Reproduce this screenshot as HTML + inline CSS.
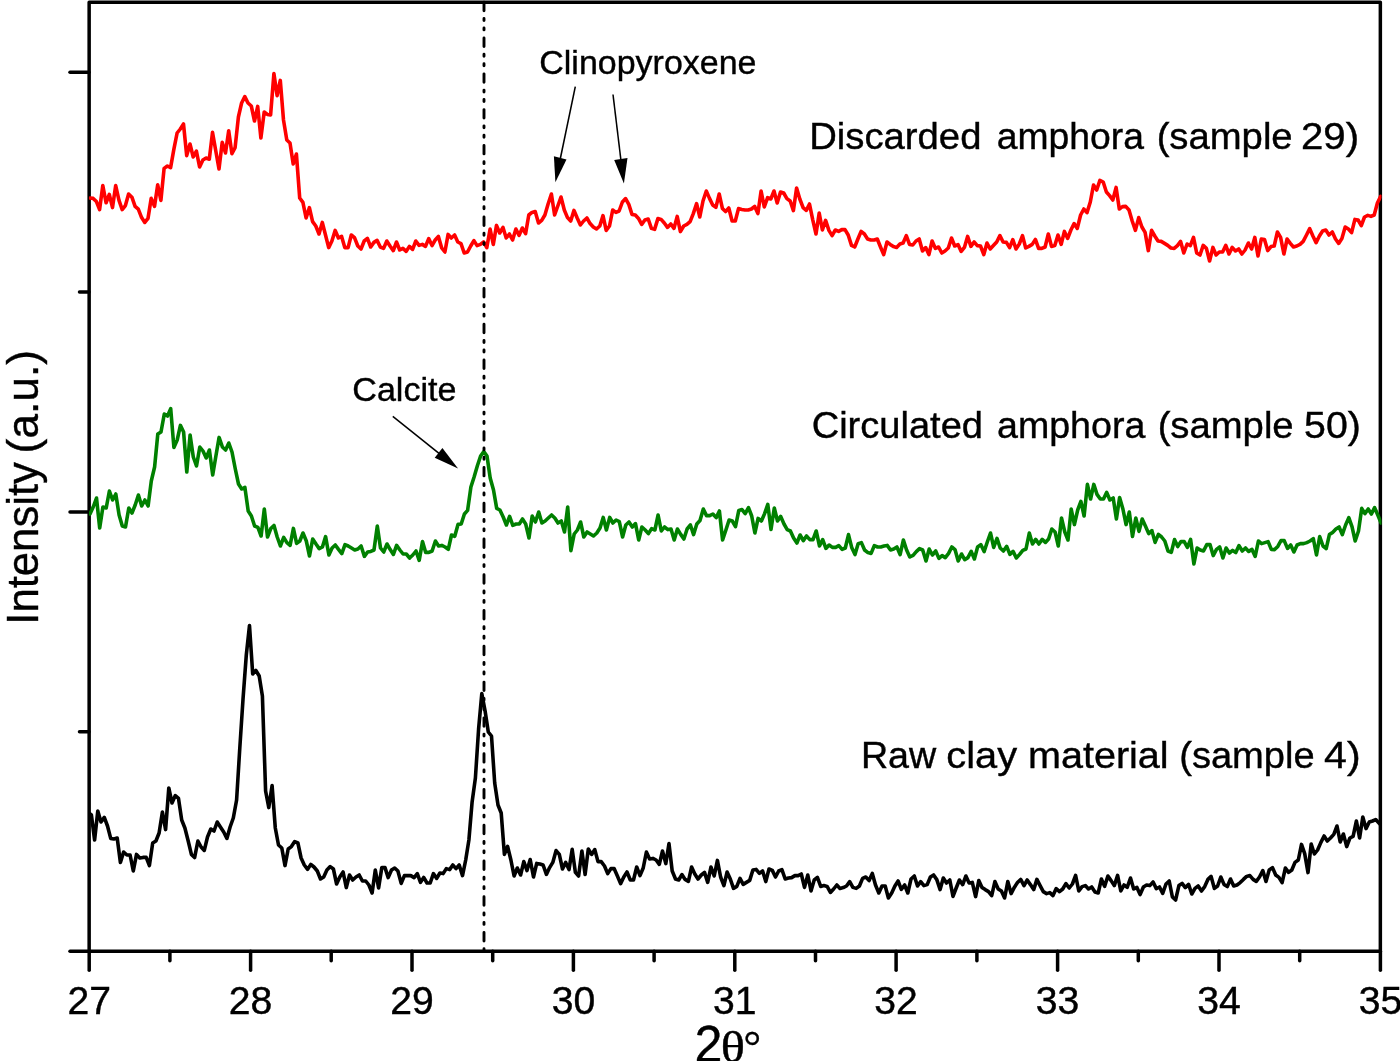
<!DOCTYPE html>
<html><head><meta charset="utf-8"><title>XRD patterns</title>
<style>
html,body{margin:0;padding:0;background:#fff;}
svg{display:block;font-family:"Liberation Sans",Arial,sans-serif;font-kerning:none;}
text{stroke:#000;stroke-width:0.4px;}
.ax line{stroke:#000;stroke-width:3.5;stroke-linecap:round;}
.cv{fill:none;stroke-width:3.6;stroke-linejoin:round;stroke-linecap:round;}
</style></head><body>
<svg width="1400" height="1061" viewBox="0 0 1400 1061">
<rect width="1400" height="1061" fill="#fff"/>
<g class="ax">
<rect x="89.15" y="2.2" width="1291.2" height="949.1" fill="none" stroke="#000" stroke-width="3.5" stroke-linejoin="round"/>
<line x1="89.2" y1="951.3" x2="89.2" y2="970.3"/><line x1="169.9" y1="951.3" x2="169.9" y2="960.8"/><line x1="250.6" y1="951.3" x2="250.6" y2="970.3"/><line x1="331.2" y1="951.3" x2="331.2" y2="960.8"/><line x1="412.0" y1="951.3" x2="412.0" y2="970.3"/><line x1="492.7" y1="951.3" x2="492.7" y2="960.8"/><line x1="573.4" y1="951.3" x2="573.4" y2="970.3"/><line x1="654.1" y1="951.3" x2="654.1" y2="960.8"/><line x1="734.8" y1="951.3" x2="734.8" y2="970.3"/><line x1="815.5" y1="951.3" x2="815.5" y2="960.8"/><line x1="896.1" y1="951.3" x2="896.1" y2="970.3"/><line x1="976.9" y1="951.3" x2="976.9" y2="960.8"/><line x1="1057.6" y1="951.3" x2="1057.6" y2="970.3"/><line x1="1138.3" y1="951.3" x2="1138.3" y2="960.8"/><line x1="1219.0" y1="951.3" x2="1219.0" y2="970.3"/><line x1="1299.7" y1="951.3" x2="1299.7" y2="960.8"/><line x1="1380.4" y1="951.3" x2="1380.4" y2="970.3"/><line x1="70" y1="72.3" x2="89" y2="72.3"/><line x1="70" y1="512" x2="89" y2="512"/><line x1="70" y1="951.3" x2="89" y2="951.3"/><line x1="79.5" y1="292.1" x2="89" y2="292.1"/><line x1="79.5" y1="731.7" x2="89" y2="731.7"/>
</g>
<clipPath id="pc"><rect x="88.9" y="2" width="1292.6" height="949.5"/></clipPath>
<g clip-path="url(#pc)">
<path class="cv" stroke="#ff0000" d="M89.9,198.0 L93.2,198.4 L96.4,201.6 L99.6,209.6 L102.8,185.6 L106.1,202.8 L109.3,194.4 L112.5,207.6 L115.7,185.6 L119.0,200.4 L122.2,209.6 L125.4,205.6 L128.6,194.0 L131.9,197.2 L135.1,206.4 L138.3,209.2 L141.6,217.6 L144.8,222.4 L148.0,218.4 L151.2,198.4 L154.5,206.4 L157.7,184.8 L160.9,200.4 L164.1,168.4 L167.4,166.0 L170.6,167.6 L173.8,149.6 L177.1,133.0 L180.3,129.0 L183.5,124.0 L186.7,155.6 L190.0,144.0 L193.2,157.0 L196.4,151.2 L199.6,167.0 L202.9,160.0 L206.1,158.0 L209.3,159.2 L212.5,132.4 L215.8,151.0 L219.0,169.0 L222.2,142.4 L225.5,153.0 L228.7,130.8 L231.9,153.6 L235.1,147.6 L238.4,117.0 L241.6,103.0 L244.8,96.6 L248.0,103.0 L251.3,106.0 L254.5,121.0 L257.7,106.4 L260.9,138.0 L264.2,112.0 L267.4,114.4 L270.6,115.0 L273.9,73.6 L277.1,95.6 L280.3,80.4 L283.5,120.0 L286.8,140.0 L290.0,143.0 L293.2,164.0 L296.4,154.0 L299.7,198.0 L302.9,202.4 L306.1,218.0 L309.4,207.6 L312.6,221.6 L315.8,226.0 L319.0,234.0 L322.3,222.4 L325.5,235.0 L328.7,247.6 L331.9,241.0 L335.2,230.4 L338.4,238.0 L341.6,236.4 L344.8,247.6 L348.1,247.6 L351.3,235.0 L354.5,237.6 L357.8,246.0 L361.0,249.0 L364.2,241.0 L367.4,238.4 L370.7,247.0 L373.9,242.4 L377.1,240.4 L380.3,247.0 L383.6,248.4 L386.8,241.0 L390.0,246.0 L393.3,250.6 L396.5,242.0 L399.7,250.0 L402.9,248.4 L406.2,251.4 L409.4,246.4 L412.6,249.4 L415.8,241.0 L419.1,245.4 L422.3,244.4 L425.5,246.4 L428.7,238.6 L432.0,245.6 L435.2,240.0 L438.4,236.4 L441.7,248.0 L444.9,252.0 L448.1,234.4 L451.3,238.0 L454.6,235.0 L457.8,242.0 L461.0,243.6 L464.2,253.0 L467.5,252.0 L470.7,246.0 L473.9,240.6 L477.1,245.6 L480.4,244.4 L483.6,242.0 L486.8,247.6 L490.1,229.0 L493.3,244.4 L496.5,225.4 L499.7,233.0 L503.0,227.4 L506.2,238.0 L509.4,234.0 L512.6,240.0 L515.9,229.0 L519.1,235.4 L522.3,228.0 L525.6,233.6 L528.8,215.0 L532.0,212.4 L535.2,211.6 L538.5,223.0 L541.7,220.4 L544.9,215.0 L548.1,204.0 L551.4,194.0 L554.6,215.0 L557.8,206.0 L561.0,197.0 L564.3,210.0 L567.5,217.6 L570.7,221.0 L574.0,210.4 L577.2,218.0 L580.4,225.0 L583.6,221.0 L586.9,218.0 L590.1,223.6 L593.3,227.0 L596.5,229.0 L599.8,226.0 L603.0,215.6 L606.2,230.4 L609.5,226.0 L612.7,210.0 L615.9,212.4 L619.1,211.0 L622.4,202.0 L625.6,198.6 L628.8,204.4 L632.0,214.4 L635.3,215.0 L638.5,218.4 L641.7,224.4 L644.9,220.0 L648.2,219.0 L651.4,228.4 L654.6,229.4 L657.9,218.6 L661.1,219.4 L664.3,223.0 L667.5,227.4 L670.8,224.0 L674.0,228.4 L677.2,216.4 L680.4,231.6 L683.7,226.0 L686.9,224.4 L690.1,221.6 L693.3,213.6 L696.6,203.6 L699.8,217.0 L703.0,201.0 L706.3,191.0 L709.5,198.4 L712.7,205.0 L715.9,207.4 L719.2,194.0 L722.4,208.4 L725.6,211.6 L728.8,208.0 L732.1,221.0 L735.3,221.0 L738.5,208.6 L741.8,209.4 L745.0,210.0 L748.2,210.0 L751.4,209.0 L754.7,206.4 L757.9,213.6 L761.1,191.0 L764.3,207.0 L767.6,197.6 L770.8,199.0 L774.0,191.0 L777.2,203.0 L780.5,192.0 L783.7,193.0 L786.9,198.6 L790.2,201.0 L793.4,210.6 L796.6,188.0 L799.8,199.0 L803.1,207.6 L806.3,210.4 L809.5,204.0 L812.7,219.6 L816.0,234.0 L819.2,213.0 L822.4,230.0 L825.6,220.4 L828.9,230.4 L832.1,235.6 L835.3,230.0 L838.6,231.4 L841.8,229.6 L845.0,229.6 L848.2,235.0 L851.5,245.4 L854.7,247.0 L857.9,239.0 L861.1,231.4 L864.4,234.0 L867.6,239.0 L870.8,240.0 L874.1,240.0 L877.3,239.0 L880.5,247.0 L883.7,254.6 L887.0,242.0 L890.2,244.4 L893.4,246.6 L896.6,247.4 L899.9,244.0 L903.1,243.0 L906.3,235.6 L909.5,244.4 L912.8,245.0 L916.0,241.0 L919.2,239.0 L922.5,251.0 L925.7,247.6 L928.9,254.6 L932.1,241.0 L935.4,248.4 L938.6,247.0 L941.8,253.0 L945.0,251.0 L948.3,248.0 L951.5,238.0 L954.7,246.0 L958.0,244.6 L961.2,251.4 L964.4,247.4 L967.6,236.4 L970.9,246.4 L974.1,242.0 L977.3,245.6 L980.5,246.0 L983.8,254.6 L987.0,243.0 L990.2,249.0 L993.4,245.6 L996.7,242.0 L999.9,235.6 L1003.1,242.0 L1006.4,242.4 L1009.6,247.6 L1012.8,239.6 L1016.0,249.0 L1019.3,244.0 L1022.5,235.6 L1025.7,248.0 L1028.9,246.4 L1032.2,244.4 L1035.4,239.4 L1038.6,248.4 L1041.8,248.4 L1045.1,247.0 L1048.3,234.0 L1051.5,246.4 L1054.8,245.6 L1058.0,235.0 L1061.2,244.4 L1064.4,231.4 L1067.7,238.4 L1070.9,230.0 L1074.1,223.6 L1077.3,228.4 L1080.6,215.0 L1083.8,209.0 L1087.0,212.6 L1090.3,202.0 L1093.5,185.0 L1096.7,190.0 L1099.9,180.4 L1103.2,182.0 L1106.4,192.0 L1109.6,195.6 L1112.8,200.0 L1116.1,187.4 L1119.3,209.0 L1122.5,206.6 L1125.7,206.4 L1129.0,210.0 L1132.2,221.0 L1135.4,230.4 L1138.7,217.6 L1141.9,227.0 L1145.1,232.4 L1148.3,250.6 L1151.6,230.4 L1154.8,236.0 L1158.0,241.0 L1161.2,241.4 L1164.5,243.4 L1167.7,245.4 L1170.9,248.0 L1174.2,248.4 L1177.4,245.6 L1180.6,241.4 L1183.8,253.0 L1187.1,244.0 L1190.3,245.6 L1193.5,237.4 L1196.7,253.0 L1200.0,255.0 L1203.2,245.4 L1206.4,248.4 L1209.6,261.0 L1212.9,247.4 L1216.1,255.0 L1219.3,252.0 L1222.6,252.0 L1225.8,245.4 L1229.0,254.0 L1232.2,247.4 L1235.5,251.0 L1238.7,249.0 L1241.9,254.0 L1245.1,250.0 L1248.4,243.0 L1251.6,249.0 L1254.8,237.4 L1258.0,256.0 L1261.3,239.0 L1264.5,239.6 L1267.7,250.6 L1271.0,246.6 L1274.2,246.0 L1277.4,232.0 L1280.6,237.4 L1283.9,254.0 L1287.1,239.0 L1290.3,243.4 L1293.5,247.0 L1296.8,246.0 L1300.0,244.4 L1303.2,241.4 L1306.5,235.0 L1309.7,228.6 L1312.9,236.0 L1316.1,242.6 L1319.4,236.0 L1322.6,231.0 L1325.8,230.0 L1329.0,235.0 L1332.3,232.0 L1335.5,239.0 L1338.7,243.4 L1341.9,238.6 L1345.2,227.0 L1348.4,229.0 L1351.6,232.6 L1354.9,219.4 L1358.1,220.0 L1361.3,225.6 L1364.5,217.0 L1367.8,215.4 L1371.0,216.4 L1374.2,215.0 L1377.4,203.0 L1380.7,196.4"/>
<path class="cv" stroke="#008000" d="M90.0,514.0 L93.2,507.0 L96.5,498.0 L99.7,528.0 L102.9,507.0 L106.2,508.0 L109.4,491.0 L112.6,500.0 L115.8,494.0 L119.1,515.0 L122.3,526.0 L125.5,527.0 L128.8,508.0 L132.0,513.0 L135.2,505.0 L138.4,495.0 L141.7,506.0 L144.9,500.0 L148.1,506.0 L151.3,481.0 L154.6,467.0 L157.8,434.0 L161.0,432.0 L164.3,414.0 L167.5,416.0 L170.7,408.6 L173.9,447.4 L177.2,440.0 L180.4,425.4 L183.6,432.0 L186.8,472.0 L190.1,435.0 L193.3,457.0 L196.5,466.0 L199.8,447.0 L203.0,451.0 L206.2,458.0 L209.4,450.0 L212.7,475.0 L215.9,456.0 L219.1,437.4 L222.4,447.0 L225.6,450.0 L228.8,443.0 L232.0,452.0 L235.3,469.0 L238.5,484.0 L241.7,489.0 L244.9,487.4 L248.2,511.0 L251.4,516.0 L254.6,526.0 L257.9,527.4 L261.1,536.0 L264.3,509.0 L267.5,537.0 L270.8,528.6 L274.0,525.4 L277.2,537.0 L280.4,546.0 L283.7,537.4 L286.9,542.6 L290.1,545.4 L293.4,528.4 L296.6,543.4 L299.8,541.0 L303.0,533.0 L306.3,541.0 L309.5,556.0 L312.7,539.0 L316.0,544.0 L319.2,548.6 L322.4,547.0 L325.6,536.6 L328.9,555.0 L332.1,548.0 L335.3,545.0 L338.5,549.4 L341.8,553.6 L345.0,544.6 L348.2,546.0 L351.5,548.0 L354.7,550.0 L357.9,549.0 L361.1,546.0 L364.4,556.4 L367.6,552.0 L370.8,551.4 L374.0,550.0 L377.3,526.0 L380.5,548.0 L383.7,552.0 L387.0,544.0 L390.2,549.6 L393.4,554.4 L396.6,545.4 L399.9,550.0 L403.1,554.0 L406.3,554.0 L409.6,558.0 L412.8,555.0 L416.0,551.0 L419.2,560.4 L422.5,541.6 L425.7,552.4 L428.9,552.4 L432.1,551.0 L435.4,541.0 L438.6,546.0 L441.8,545.4 L445.1,547.0 L448.3,549.4 L451.5,535.0 L454.7,536.4 L458.0,524.4 L461.2,524.0 L464.4,514.0 L467.6,510.4 L470.9,487.0 L474.1,477.0 L477.3,466.0 L480.6,456.0 L483.8,451.6 L487.0,456.0 L490.2,478.0 L493.5,490.0 L496.7,508.4 L499.9,510.0 L503.2,517.0 L506.4,525.0 L509.6,516.4 L512.8,525.4 L516.1,524.0 L519.3,524.0 L522.5,519.0 L525.7,524.0 L529.0,538.0 L532.2,516.0 L535.4,522.0 L538.7,512.0 L541.9,523.0 L545.1,521.0 L548.3,518.0 L551.6,515.0 L554.8,518.0 L558.0,523.0 L561.3,521.0 L564.5,532.0 L567.7,507.0 L570.9,550.6 L574.2,534.0 L577.4,530.0 L580.6,522.0 L583.8,537.0 L587.1,532.0 L590.3,534.0 L593.5,536.0 L596.8,533.0 L600.0,528.0 L603.2,517.4 L606.4,530.0 L609.7,517.4 L612.9,523.0 L616.1,520.0 L619.3,521.6 L622.6,537.0 L625.8,525.0 L629.0,522.0 L632.3,527.0 L635.5,523.6 L638.7,540.0 L641.9,527.0 L645.2,530.0 L648.4,533.6 L651.6,528.6 L654.9,530.0 L658.1,515.0 L661.3,531.0 L664.5,527.0 L667.8,529.6 L671.0,529.0 L674.2,540.0 L677.4,529.0 L680.7,534.4 L683.9,539.0 L687.1,529.0 L690.4,525.0 L693.6,534.6 L696.8,524.0 L700.0,520.6 L703.3,509.0 L706.5,515.6 L709.7,515.6 L712.9,514.0 L716.2,517.6 L719.4,511.0 L722.6,540.0 L725.9,530.0 L729.1,520.0 L732.3,521.0 L735.5,526.6 L738.8,510.4 L742.0,509.6 L745.2,513.6 L748.5,507.6 L751.7,516.0 L754.9,533.0 L758.1,518.4 L761.4,521.0 L764.6,513.6 L767.8,504.4 L771.0,529.4 L774.3,508.0 L777.5,521.0 L780.7,516.4 L784.0,524.0 L787.2,529.6 L790.4,531.0 L793.6,538.0 L796.9,543.0 L800.1,535.0 L803.3,540.6 L806.5,536.0 L809.8,539.6 L813.0,539.6 L816.2,531.0 L819.5,546.0 L822.7,539.6 L825.9,548.4 L829.1,545.0 L832.4,547.4 L835.6,547.4 L838.8,545.6 L842.1,549.4 L845.3,548.0 L848.5,534.6 L851.7,547.4 L855.0,554.6 L858.2,543.6 L861.4,542.6 L864.6,550.0 L867.9,552.6 L871.1,553.4 L874.3,545.6 L877.6,547.0 L880.8,547.0 L884.0,546.0 L887.2,545.4 L890.5,550.0 L893.7,549.0 L896.9,547.0 L900.1,554.6 L903.4,540.0 L906.6,550.0 L909.8,557.0 L913.1,555.4 L916.3,551.6 L919.5,548.6 L922.7,550.0 L926.0,561.0 L929.2,549.0 L932.4,555.0 L935.7,551.0 L938.9,558.4 L942.1,555.6 L945.3,557.6 L948.6,553.4 L951.8,547.0 L955.0,549.6 L958.2,561.0 L961.5,554.0 L964.7,559.6 L967.9,557.6 L971.2,551.4 L974.4,559.0 L977.6,547.0 L980.8,544.6 L984.1,551.6 L987.3,542.0 L990.5,533.0 L993.7,547.4 L997.0,538.4 L1000.2,548.0 L1003.4,551.0 L1006.7,546.4 L1009.9,554.4 L1013.1,551.4 L1016.3,558.0 L1019.6,554.4 L1022.8,550.4 L1026.0,549.0 L1029.3,533.0 L1032.5,544.0 L1035.7,539.4 L1038.9,544.0 L1042.2,539.4 L1045.4,542.4 L1048.6,539.0 L1051.8,529.0 L1055.1,532.0 L1058.3,546.0 L1061.5,518.0 L1064.8,532.0 L1068.0,540.0 L1071.2,509.0 L1074.4,524.6 L1077.7,510.0 L1080.9,501.4 L1084.1,516.0 L1087.4,484.4 L1090.6,499.0 L1093.8,484.4 L1097.0,494.4 L1100.3,499.0 L1103.5,499.0 L1106.7,492.4 L1109.9,500.0 L1113.2,498.0 L1116.4,519.0 L1119.6,497.6 L1122.9,509.0 L1126.1,524.6 L1129.3,512.0 L1132.5,536.4 L1135.8,518.0 L1139.0,531.4 L1142.2,519.0 L1145.4,526.0 L1148.7,533.6 L1151.9,530.6 L1155.1,542.4 L1158.4,534.4 L1161.6,537.0 L1164.8,541.0 L1168.0,551.0 L1171.3,552.4 L1174.5,539.6 L1177.7,546.6 L1181.0,541.6 L1184.2,541.6 L1187.4,547.4 L1190.6,539.4 L1193.9,564.0 L1197.1,548.0 L1200.3,550.0 L1203.5,551.0 L1206.8,544.6 L1210.0,544.6 L1213.2,555.6 L1216.5,549.4 L1219.7,547.0 L1222.9,558.0 L1226.1,548.0 L1229.4,553.0 L1232.6,550.4 L1235.8,552.6 L1239.0,545.6 L1242.3,551.0 L1245.5,548.0 L1248.7,551.4 L1252.0,549.4 L1255.2,556.4 L1258.4,541.0 L1261.6,543.6 L1264.9,542.6 L1268.1,541.6 L1271.3,549.4 L1274.6,549.6 L1277.8,546.4 L1281.0,540.6 L1284.2,540.6 L1287.5,548.4 L1290.7,545.0 L1293.9,552.0 L1297.1,545.0 L1300.4,543.6 L1303.6,543.6 L1306.8,542.6 L1310.1,541.0 L1313.3,538.6 L1316.5,555.0 L1319.7,536.6 L1323.0,546.0 L1326.2,548.6 L1329.4,534.6 L1332.6,532.4 L1335.9,529.0 L1339.1,527.0 L1342.3,534.6 L1345.6,525.0 L1348.8,517.6 L1352.0,526.6 L1355.2,541.0 L1358.5,531.0 L1361.7,508.4 L1364.9,513.6 L1368.2,509.0 L1371.4,514.0 L1374.6,507.6 L1377.8,515.0 L1381.1,523.0"/>
<path class="cv" stroke="#000" d="M88.1,812.4 L91.4,815.0 L94.6,840.0 L97.8,811.0 L101.0,822.0 L104.3,817.4 L107.5,826.0 L110.7,838.4 L113.9,839.0 L117.2,838.0 L120.4,862.4 L123.6,852.0 L126.9,855.0 L130.1,855.0 L133.3,871.0 L136.5,854.4 L139.8,858.0 L143.0,857.4 L146.2,857.4 L149.4,865.6 L152.7,843.0 L155.9,841.0 L159.1,833.0 L162.4,812.0 L165.6,829.6 L168.8,788.0 L172.0,803.0 L175.3,795.6 L178.5,798.4 L181.7,820.0 L184.9,828.0 L188.2,841.0 L191.4,854.4 L194.6,857.6 L197.9,841.0 L201.1,847.0 L204.3,850.4 L207.5,837.0 L210.8,829.0 L214.0,831.0 L217.2,822.0 L220.4,827.0 L223.7,832.0 L226.9,838.4 L230.1,827.0 L233.3,818.0 L236.6,800.0 L239.8,748.0 L243.0,699.4 L246.3,655.0 L249.5,625.5 L252.7,674.0 L255.9,670.5 L259.2,676.0 L262.4,696.0 L265.6,791.0 L268.8,807.6 L272.1,785.6 L275.3,828.0 L278.5,845.0 L281.8,848.0 L285.0,865.6 L288.2,849.0 L291.4,846.6 L294.7,841.6 L297.9,843.0 L301.1,858.0 L304.3,865.0 L307.6,869.4 L310.8,864.4 L314.0,867.0 L317.3,871.0 L320.5,879.0 L323.7,877.0 L326.9,870.0 L330.2,866.6 L333.4,869.0 L336.6,884.0 L339.8,877.0 L343.1,872.0 L346.3,887.6 L349.5,875.0 L352.7,880.0 L356.0,877.0 L359.2,875.0 L362.4,881.0 L365.7,881.0 L368.9,885.0 L372.1,893.0 L375.3,870.0 L378.6,888.0 L381.8,867.6 L385.0,867.6 L388.2,877.6 L391.5,870.0 L394.7,868.0 L397.9,871.0 L401.2,883.4 L404.4,875.6 L407.6,875.6 L410.8,875.6 L414.1,877.6 L417.3,873.6 L420.5,882.4 L423.7,877.4 L427.0,883.0 L430.2,883.0 L433.4,873.6 L436.7,878.4 L439.9,873.0 L443.1,873.6 L446.3,868.6 L449.6,869.6 L452.8,865.0 L456.0,868.6 L459.2,865.0 L462.5,875.6 L465.7,860.0 L468.9,840.0 L472.1,802.0 L475.4,778.0 L478.6,729.0 L481.8,693.6 L485.1,711.0 L488.3,732.0 L491.5,736.0 L494.7,783.0 L498.0,805.0 L501.2,813.0 L504.4,854.4 L507.6,846.4 L510.9,860.0 L514.1,876.0 L517.3,868.0 L520.6,875.0 L523.8,861.6 L527.0,870.6 L530.2,859.6 L533.5,877.0 L536.7,863.4 L539.9,864.0 L543.1,865.0 L546.4,874.4 L549.6,867.6 L552.8,862.4 L556.1,850.6 L559.3,854.4 L562.5,869.0 L565.7,862.4 L569.0,869.6 L572.2,849.4 L575.4,872.4 L578.6,876.0 L581.9,851.0 L585.1,874.4 L588.3,849.0 L591.6,854.4 L594.8,849.6 L598.0,861.6 L601.2,861.6 L604.5,866.0 L607.7,873.6 L610.9,868.6 L614.1,868.6 L617.4,876.0 L620.6,883.6 L623.8,877.0 L627.0,872.0 L630.3,880.0 L633.5,880.0 L636.7,867.0 L640.0,875.6 L643.2,868.0 L646.4,852.0 L649.6,859.0 L652.9,858.4 L656.1,860.0 L659.3,864.4 L662.5,851.0 L665.8,863.6 L669.0,843.6 L672.2,871.0 L675.5,879.0 L678.7,880.0 L681.9,874.6 L685.1,879.4 L688.4,881.4 L691.6,867.0 L694.8,874.0 L698.0,879.0 L701.3,875.0 L704.5,872.4 L707.7,882.4 L711.0,867.0 L714.2,876.0 L717.4,860.4 L720.6,877.0 L723.9,885.6 L727.1,872.0 L730.3,879.0 L733.5,888.4 L736.8,886.4 L740.0,878.4 L743.2,884.4 L746.4,882.4 L749.7,880.4 L752.9,870.0 L756.1,869.4 L759.4,873.4 L762.6,871.0 L765.8,881.6 L769.0,869.0 L772.3,870.4 L775.5,877.0 L778.7,871.0 L781.9,869.6 L785.2,879.0 L788.4,878.0 L791.6,877.6 L794.9,875.6 L798.1,875.6 L801.3,874.0 L804.5,887.4 L807.8,875.0 L811.0,891.0 L814.2,880.0 L817.4,877.4 L820.7,886.4 L823.9,885.6 L827.1,886.4 L830.4,892.4 L833.6,889.0 L836.8,885.0 L840.0,888.4 L843.3,887.6 L846.5,886.0 L849.7,881.6 L852.9,887.4 L856.2,888.4 L859.4,886.0 L862.6,878.4 L865.8,877.0 L869.1,880.6 L872.3,873.4 L875.5,885.0 L878.8,893.0 L882.0,886.0 L885.2,886.0 L888.4,898.0 L891.7,893.0 L894.9,886.0 L898.1,881.0 L901.3,889.4 L904.6,885.0 L907.8,893.0 L911.0,879.0 L914.3,876.0 L917.5,886.0 L920.7,881.6 L923.9,885.6 L927.2,884.6 L930.4,877.0 L933.6,875.0 L936.8,879.6 L940.1,889.6 L943.3,878.0 L946.5,883.0 L949.8,880.0 L953.0,896.4 L956.2,888.0 L959.4,880.0 L962.7,884.6 L965.9,876.0 L969.1,883.0 L972.3,882.4 L975.6,896.6 L978.8,880.6 L982.0,887.4 L985.2,889.6 L988.5,891.6 L991.7,895.6 L994.9,881.6 L998.2,889.0 L1001.4,891.0 L1004.6,898.0 L1007.8,881.6 L1011.1,893.6 L1014.3,887.4 L1017.5,882.6 L1020.7,879.4 L1024.0,885.6 L1027.2,880.0 L1030.4,884.6 L1033.7,889.6 L1036.9,879.4 L1040.1,885.6 L1043.3,891.6 L1046.6,893.6 L1049.8,892.6 L1053.0,895.6 L1056.2,888.6 L1059.5,891.6 L1062.7,889.0 L1065.9,883.6 L1069.2,888.0 L1072.4,884.0 L1075.6,875.4 L1078.8,891.0 L1082.1,886.6 L1085.3,885.6 L1088.5,889.0 L1091.7,887.0 L1095.0,892.0 L1098.2,893.0 L1101.4,879.0 L1104.6,886.4 L1107.9,876.0 L1111.1,880.6 L1114.3,885.6 L1117.6,875.4 L1120.8,891.0 L1124.0,885.0 L1127.2,887.4 L1130.5,878.0 L1133.7,889.0 L1136.9,887.4 L1140.1,894.6 L1143.4,887.0 L1146.6,885.0 L1149.8,885.6 L1153.1,882.0 L1156.3,888.6 L1159.5,887.0 L1162.7,893.4 L1166.0,884.0 L1169.2,881.0 L1172.4,897.0 L1175.6,900.0 L1178.9,885.6 L1182.1,883.4 L1185.3,887.6 L1188.6,884.4 L1191.8,894.0 L1195.0,888.4 L1198.2,886.0 L1201.5,891.0 L1204.7,886.6 L1207.9,879.4 L1211.1,876.4 L1214.4,888.4 L1217.6,886.0 L1220.8,877.0 L1224.0,884.4 L1227.3,886.6 L1230.5,879.0 L1233.7,886.0 L1237.0,885.0 L1240.2,882.6 L1243.4,879.4 L1246.6,876.4 L1249.9,875.6 L1253.1,879.4 L1256.3,881.4 L1259.5,877.0 L1262.8,870.6 L1266.0,881.4 L1269.2,870.0 L1272.5,867.6 L1275.7,875.0 L1278.9,877.4 L1282.1,882.6 L1285.4,868.0 L1288.6,872.4 L1291.8,870.0 L1295.0,862.4 L1298.3,860.0 L1301.5,844.4 L1304.7,853.6 L1308.0,872.6 L1311.2,844.0 L1314.4,854.0 L1317.6,850.0 L1320.9,842.4 L1324.1,836.0 L1327.3,841.0 L1330.5,838.0 L1333.8,834.4 L1337.0,826.0 L1340.2,842.0 L1343.4,834.0 L1346.7,846.6 L1349.9,838.0 L1353.1,836.4 L1356.4,821.0 L1359.6,838.0 L1362.8,817.0 L1366.0,828.6 L1369.3,822.0 L1372.5,821.0 L1375.7,819.6 L1378.9,823.0 L1382.3,826.5"/>
</g>
<line x1="484" y1="2.27" x2="484" y2="951" stroke="#000" stroke-width="2.9" stroke-linecap="round" stroke-dasharray="8.5,7.75,2,7.4,2,8.13"/>

<text transform="translate(89.2,1013.5) scale(1.03,1)" text-anchor="middle" font-size="38">27</text><text transform="translate(250.6,1013.5) scale(1.03,1)" text-anchor="middle" font-size="38">28</text><text transform="translate(412.0,1013.5) scale(1.03,1)" text-anchor="middle" font-size="38">29</text><text transform="translate(573.4,1013.5) scale(1.03,1)" text-anchor="middle" font-size="38">30</text><text transform="translate(734.8,1013.5) scale(1.03,1)" text-anchor="middle" font-size="38">31</text><text transform="translate(896.1,1013.5) scale(1.03,1)" text-anchor="middle" font-size="38">32</text><text transform="translate(1057.6,1013.5) scale(1.03,1)" text-anchor="middle" font-size="38">33</text><text transform="translate(1219.0,1013.5) scale(1.03,1)" text-anchor="middle" font-size="38">34</text><text transform="translate(1380.4,1013.5) scale(1.03,1)" text-anchor="middle" font-size="38">35</text>
<text transform="translate(694.6,1061.7) scale(0.985,1)" font-size="51">2</text>
<text transform="translate(720.8,1061.7) scale(1.141,1)" font-size="44.3" stroke-width="0" font-family="'Liberation Serif','DejaVu Serif',serif">θ</text>
<text x="743.6" y="1060.6" font-size="43.9" stroke-width="0" font-family="'Liberation Serif','DejaVu Serif',serif">°</text>
<text transform="translate(809.26,149) scale(1.0255,1)" font-size="37.3">Discarded</text><text transform="translate(996.82,149) scale(0.9998,1)" font-size="37.3">amphora</text><text transform="translate(1156.63,149) scale(1.0257,1)" font-size="37.3">(sample</text><text transform="translate(1300.98,149) scale(1.0780,1)" font-size="37.3">29)</text><text transform="translate(811.67,437.6) scale(1.0206,1)" font-size="37.3">Circulated</text><text transform="translate(997.00,437.6) scale(1.0080,1)" font-size="37.3">amphora</text><text transform="translate(1157.63,437.6) scale(1.0257,1)" font-size="37.3">(sample</text><text transform="translate(1304.03,437.6) scale(1.0538,1)" font-size="37.3">50)</text><text transform="translate(860.91,768.3) scale(1.0105,1)" font-size="37.3">Raw</text><text transform="translate(946.31,768.3) scale(1.0669,1)" font-size="37.3">clay</text><text transform="translate(1027.97,768.3) scale(1.0604,1)" font-size="37.3">material</text><text transform="translate(1179.24,768.3) scale(1.0210,1)" font-size="37.3">(sample</text><text transform="translate(1324.06,768.3) scale(1.1001,1)" font-size="37.3">4)</text><text transform="translate(539.27,74.2) scale(1.0144,1)" font-size="33.5">Clinopyroxene</text><text transform="translate(352.27,401.3) scale(1.0242,1)" font-size="33.3">Calcite</text><text transform="translate(37.7,624.73) rotate(-90) scale(0.9930,1)" font-size="44">Intensity</text><text transform="translate(37.7,453.55) rotate(-90) scale(1.0089,1)" font-size="44">(a.u.)</text>
<g stroke="#000" stroke-width="1.55" fill="#000">
<line x1="575.3" y1="86.7" x2="559" y2="165"/><polygon points="555.4,182.2 553.9,156.2 566.5,159.4" stroke="none"/>
<line x1="613" y1="94.5" x2="621.5" y2="165"/><polygon points="623.9,183.4 614.2,159.9 627.5,158" stroke="none"/>
<line x1="392.8" y1="416.4" x2="444" y2="457.3"/><polygon points="458.05,468.5 434.7,457.7 442.4,447.9" stroke="none"/>
</g>
</svg>
</body></html>
